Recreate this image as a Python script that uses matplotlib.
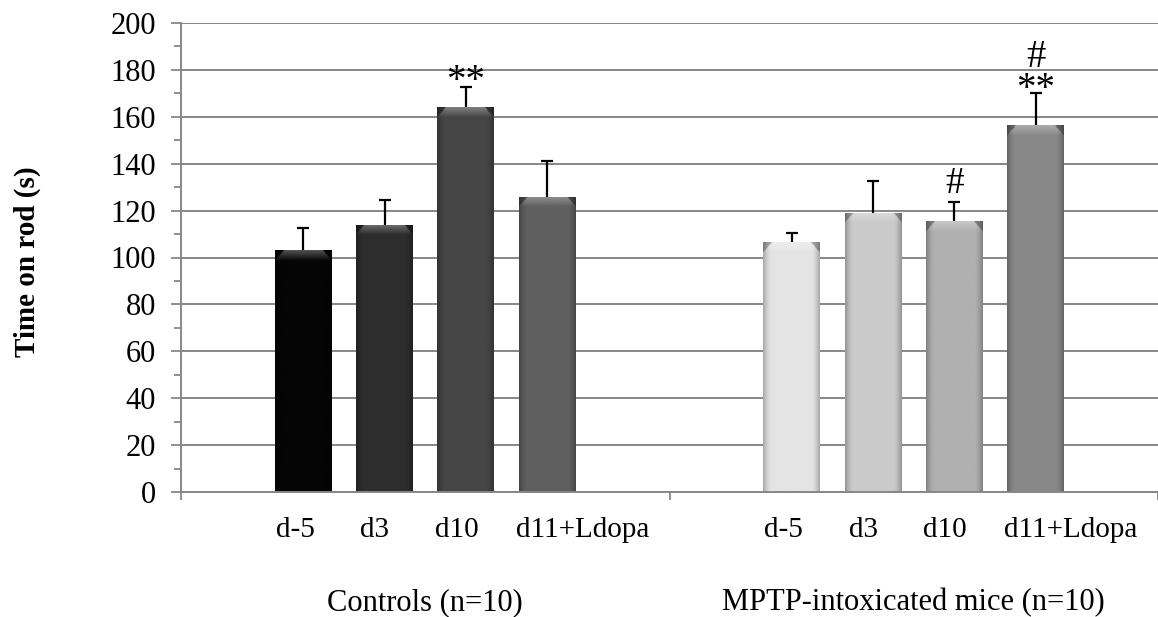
import numpy as np
import matplotlib
matplotlib.use("Agg")
import matplotlib.pyplot as plt
from matplotlib.transforms import blended_transform_factory

# ---- data ----
categories = ['d-5', 'd3', 'd10', 'd11+Ldopa']
groups = ['Controls (n=10)', 'MPTP-intoxicated mice (n=10)']
control_means = [103, 114, 164, 126]
control_sem = [9.5, 10.5, 8.5, 15]
mptp_means = [106.5, 119, 115.5, 156.5]
mptp_sem = [4, 13.5, 8, 13.5]
control_colors = ['#050505', '#2d2d2d', '#454545', '#5f5f5f']
mptp_colors = ['#e4e4e4', '#cacaca', '#b0b0b0', '#888888']
control_marks = ['', '', '**', '']
mptp_marks = ['', '', '#', '#\n**']

# layout: label centres within a group (fraction of group width)
label_frac = [0.234, 0.397, 0.564, 0.822]

plt.rcParams['font.family'] = ['Liberation Serif', 'DejaVu Serif']

W, H = 1158, 617
fig = plt.figure(figsize=(W / 100, H / 100), dpi=100)
x0, x1, y0, y1 = 181, 1158, 23, 492
ax = fig.add_axes([x0 / W, 1 - y1 / H, (x1 - x0) / W, (y1 - y0) / H])
axh = y1 - y0

grid_col = '#878787'
nslots = 6
width = 0.7 / nslots
ax.set_xlim(0, (x1 - x0) / 491.0)
ax.set_ylim(0, 200)


def shaded_bar(xc, h, color):
    bar = ax.bar(xc, h, width=width, color=color, linewidth=0, zorder=2)[0]
    rgb = np.array(matplotlib.colors.to_rgb(color))
    nx, ny = 60, 400
    u = (np.arange(nx) + 0.5) / nx
    v = (np.arange(ny) + 0.5) / ny * h          # distance from the top
    U, V = np.meshgrid(u, v)
    edge = np.clip((np.abs(U - 0.5) - 0.36) / 0.14, 0, 1)
    fac = 1 - 0.28 * edge ** 1.5
    img = rgb[None, None, :] * fac[..., None]
    bevel = 4.5
    inset = 0.16 * (1 - np.clip(V / bevel, 0, 1))
    in_top = V < bevel
    centre = in_top & (U > inset) & (U < 1 - inset)
    sides = in_top & ~centre
    mix = np.clip(0.32 * (1 - V / bevel), 0, 1)
    img = np.where(centre[..., None],
                   img * (1 - mix[..., None]) + mix[..., None], img)
    img = np.where(sides[..., None], img * 0.72, img)
    im = ax.imshow(img, extent=[xc - width / 2, xc + width / 2, 0, h],
                   origin='upper', aspect='auto', zorder=2.1,
                   interpolation='bilinear')
    im.set_clip_path(bar)
    return bar


series = [(control_means, control_sem, control_colors, control_marks),
          (mptp_means, mptp_sem, mptp_colors, mptp_marks)]
trans_lab = blended_transform_factory(ax.transData, ax.transAxes)
for g, (means, sems, cols, marks) in enumerate(series):
    for i, (m, s, c, mk) in enumerate(zip(means, sems, cols, marks)):
        xc = g + (i + 1.5) / nslots
        shaded_bar(xc, m, c)
        eb = ax.errorbar(xc, m, yerr=[[0], [s]], fmt='none', ecolor='black',
                         elinewidth=1.6, capsize=4.3, capthick=1.6, zorder=3)
        for cl in eb[1]:
            if np.allclose(cl.get_ydata(), m):
                cl.set_visible(False)
        if mk == '**':
            ax.annotate(mk, (xc, m + s), xytext=(0, -4),
                        textcoords='offset pixels', ha='center',
                        va='baseline', fontsize=28, zorder=4)
        elif mk == '#':
            ax.annotate(mk, (xc, m + s), xytext=(0, 9),
                        textcoords='offset pixels', ha='center',
                        va='baseline', fontsize=27, zorder=4)
        elif mk:
            ax.annotate(mk, (xc, m + s), xytext=(0, -15),
                        textcoords='offset pixels', ha='center',
                        va='bottom', fontsize=28, zorder=4,
                        linespacing=0.85, multialignment='center')
        ax.text(g + label_frac[i], -45 / axh, categories[i],
                transform=trans_lab, ha='center', va='baseline', fontsize=21)
    ax.text(g + 0.5, -118 / axh, groups[g], transform=trans_lab,
            ha='center', va='baseline', fontsize=22)

# axes styling
ax.set_yticks(np.arange(0, 201, 20))
ax.set_yticks(np.arange(0, 201, 10), minor=True)
ax.set_xticks([0, 1, 2])
ax.set_xticklabels([])
ax.tick_params(axis='y', which='major', direction='out', length=7,
               width=1.3, color=grid_col, labelsize=22, pad=11)
ax.tick_params(axis='y', which='minor', direction='out', length=5,
               width=1.3, color=grid_col)
ax.tick_params(axis='x', which='major', direction='out', length=6,
               width=1.3, color=grid_col)
ax.yaxis.grid(True, which='major', color=grid_col, linewidth=1.4)
ax.set_axisbelow(True)
for sp in ['top', 'right']:
    ax.spines[sp].set_visible(False)
for sp in ['left', 'bottom']:
    ax.spines[sp].set_color(grid_col)
    ax.spines[sp].set_linewidth(1.4)
ax.spines['bottom'].set_zorder(5)

fig.text(27.5 / W, 1 - 261.7 / H, 'Time on rod (s)', rotation=90,
         ha='center', va='center', fontsize=21, fontweight='bold')

fig.savefig('out.png', dpi=100)
